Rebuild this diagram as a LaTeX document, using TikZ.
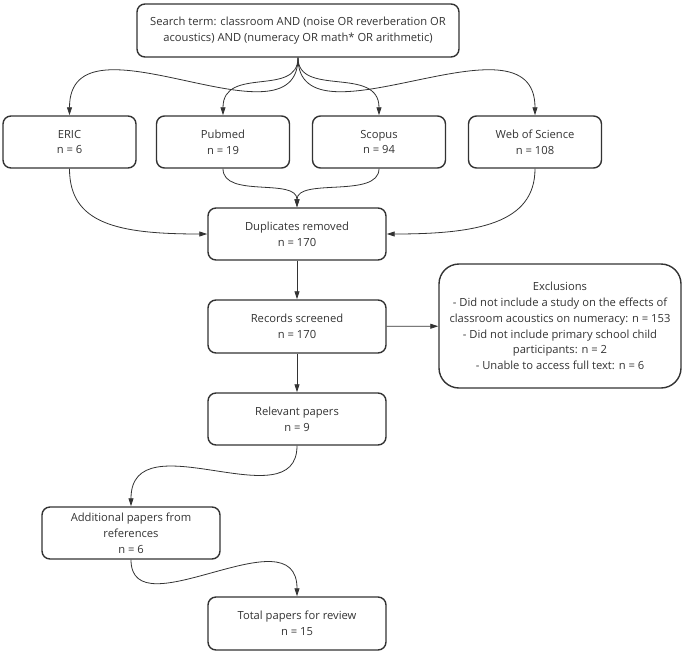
\documentclass[tikz,border=0pt]{standalone}
\usepackage{fontspec}
\setmainfont{Open Sans}
\usetikzlibrary{arrows.meta}
\definecolor{inkgray}{HTML}{333333}

\begin{document}
\begin{tikzpicture}[x=1pt,y=-1pt,
   stage/.style={draw=inkgray, line width=1.4pt, rounded corners=8pt, align=center,
      text=inkgray, font=\fontsize{11.2}{15.8}\selectfont,
      minimum width=178pt, minimum height=52pt, inner sep=0pt},
   source/.style={stage, minimum width=133pt},
   link/.style={draw=inkgray, line width=0.8pt, -{Triangle[length=8pt,width=5pt]}}]
   \useasboundingbox (0,0) rectangle (685,654);

   \node[stage, minimum width=322pt, minimum height=53pt] (search) at (298,30.5)
      {Search term: classroom AND (noise OR reverberation OR\\acoustics) AND (numeracy OR math* OR arithmetic)};

   \node[source] (eric) at (69.5,142) {ERIC\\n = 6};
   \node[source] (pubmed) at (223,142) {Pubmed\\n = 19};
   \node[source] (scopus) at (379,142) {Scopus\\n = 94};
   \node[source] (wos) at (535,142) {Web of Science\\n = 108};

   \node[stage] (dup) at (297,234) {Duplicates removed\\n = 170};
   \node[stage, minimum height=53pt] (records) at (297,326.5) {Records screened\\n = 170};
   \node[stage, minimum width=242pt, minimum height=124pt, rounded corners=20pt] (excl) at (560,326)
      {Exclusions\\- Did not include a study on the effects of\\classroom acoustics on numeracy: n = 153\\- Did not include primary school child\\participants: n = 2\\- Unable to access full text: n = 6};
   \node[stage] (relevant) at (297,419) {Relevant papers\\n = 9};
   \node[stage] (extra) at (131,533) {Additional papers from\\references\\n = 6};
   \node[stage, minimum height=53pt] (total) at (297,623.5) {Total papers for review\\n = 15};

   % search term to the four databases
   \draw[link] (search.south) .. controls +(0,96) and +(0,-110) .. (eric.north);
   \draw[link] (search.south) .. controls +(0,40) and +(0,-50) .. (pubmed.north);
   \draw[link] (search.south) .. controls +(0,40) and +(0,-50) .. (scopus.north);
   \draw[link] (search.south) .. controls +(0,96) and +(0,-110) .. (wos.north);

   % databases merged
   \draw[link] (eric.south) .. controls +(0,55) and +(-90,0) .. (dup.west);
   \draw[link] (pubmed.south) .. controls +(0,30) and +(0,-30) .. (dup.north);
   \draw[link] (scopus.south) .. controls +(0,30) and +(0,-30) .. (dup.north);
   \draw[link] (wos.south) .. controls +(0,55) and +(90,0) .. (dup.east);

   \draw[link] (dup) -- (records);
   \draw[link] (records) -- (excl);
   \draw[link] (records) -- (relevant);
   \draw[link] (relevant.south) .. controls +(0,76) and +(0,-88) .. (extra.north);
   \draw[link] (extra.south) .. controls +(0,72) and +(0,-85) .. (total.north);
\end{tikzpicture}
\end{document}
